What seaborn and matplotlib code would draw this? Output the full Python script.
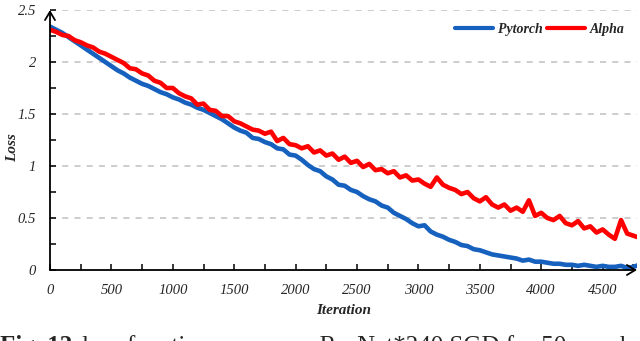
import numpy as np
import pandas as pd
import matplotlib
matplotlib.use("Agg")
import matplotlib.pyplot as plt
from matplotlib.lines import Line2D
import seaborn as sns

# iterations sampled every 50 steps
iterations = list(range(0, 4801, 50))

pytorch_loss = [
    2.34, 2.31, 2.28, 2.24, 2.20, 2.16, 2.12, 2.08, 2.04, 2.00,
    1.96, 1.92, 1.89, 1.85, 1.82, 1.79, 1.77, 1.74, 1.71, 1.69,
    1.66, 1.64, 1.61, 1.59, 1.56, 1.54, 1.51, 1.48, 1.45, 1.41,
    1.37, 1.34, 1.32, 1.27, 1.26, 1.23, 1.21, 1.17, 1.16, 1.11,
    1.10, 1.06, 1.01, 0.97, 0.95, 0.90, 0.87, 0.82, 0.81, 0.77,
    0.75, 0.71, 0.68, 0.66, 0.62, 0.60, 0.55, 0.52, 0.49, 0.45,
    0.42, 0.43, 0.37, 0.34, 0.32, 0.29, 0.27, 0.24, 0.23, 0.20,
    0.19, 0.17, 0.15, 0.14, 0.13, 0.12, 0.11, 0.09, 0.10, 0.08,
    0.08, 0.07, 0.06, 0.06, 0.05, 0.05, 0.04, 0.05, 0.04, 0.03,
    0.04, 0.03, 0.03, 0.04, 0.02, 0.03, 0.05,
]

alpha_loss = [
    2.31, 2.29, 2.26, 2.25, 2.21, 2.19, 2.16, 2.14, 2.10, 2.08,
    2.05, 2.02, 1.99, 1.94, 1.93, 1.89, 1.87, 1.82, 1.80, 1.75,
    1.75, 1.70, 1.67, 1.65, 1.59, 1.60, 1.54, 1.53, 1.48, 1.48,
    1.43, 1.41, 1.38, 1.35, 1.34, 1.31, 1.33, 1.24, 1.27, 1.21,
    1.20, 1.17, 1.19, 1.13, 1.15, 1.10, 1.12, 1.06, 1.09, 1.03,
    1.05, 0.99, 1.02, 0.96, 0.97, 0.93, 0.95, 0.89, 0.91, 0.86,
    0.87, 0.83, 0.80, 0.89, 0.82, 0.79, 0.77, 0.73, 0.75, 0.69,
    0.66, 0.70, 0.63, 0.60, 0.63, 0.57, 0.60, 0.56, 0.67, 0.52,
    0.55, 0.50, 0.48, 0.52, 0.45, 0.43, 0.47, 0.40, 0.42, 0.36,
    0.39, 0.34, 0.30, 0.48, 0.35, 0.33, 0.31,
]

series_names = ["Pytorch", "Alpha"]
series_colors = ["#1660be", "#ff0000"]
x_ticks = [0, 500, 1000, 1500, 2000, 2500, 3000, 3500, 4000, 4500]
y_ticks = [0, 0.5, 1, 1.5, 2, 2.5]
y_tick_labels = ["0", "0.5", "1", "1.5", "2", "2.5"]

df = pd.DataFrame({
    "Iteration": iterations * 2,
    "Loss": pytorch_loss + alpha_loss,
    "model": ["Pytorch"] * len(iterations) + ["Alpha"] * len(iterations),
})

sns.set_theme(style="white")
plt.rcParams["font.family"] = ["Liberation Serif", "DejaVu Serif"]

fig = plt.figure(figsize=(6.4, 3.41), dpi=100)
ax = fig.add_axes([50 / 640, 1 - 270 / 341, 587 / 640, 260 / 341])

sns.lineplot(data=df, x="Iteration", y="Loss", hue="model", hue_order=series_names,
             palette=series_colors, linewidth=3.3, ax=ax, legend=False)

ax.set_xlim(0, 4780)
ax.set_ylim(0, 2.5)

# dashed horizontal grid
for v in y_ticks[1:]:
    ax.axhline(v, color="#c0c0c0", linewidth=1.1, linestyle=(0, (4, 4)), zorder=0)

for s in ax.spines.values():
    s.set_visible(False)

# axis arrows
arrow = dict(arrowstyle="->,head_length=0.5,head_width=0.3", lw=1.3, color="black",
             shrinkA=0, shrinkB=0)
ax.annotate("", xy=(0, 1.0), xytext=(0, 0), xycoords="axes fraction", arrowprops=arrow)
ax.annotate("", xy=(1.0, 0), xytext=(0, 0), xycoords="axes fraction", arrowprops=arrow)

ax.set_xticks(x_ticks)
ax.set_xticklabels([str(t) for t in x_ticks])
ax.set_xticks(list(range(250, 4800, 500)), minor=True)
ax.set_yticks(y_ticks)
ax.set_yticklabels(y_tick_labels)
ax.set_yticks([0.25, 0.75, 1.25, 1.75, 2.25], minor=True)
ax.tick_params(axis="both", which="both", direction="in", length=4, width=1.1,
               color="black", labelsize=10.5, bottom=True, left=True)
ax.tick_params(axis="x", pad=10)
ax.tick_params(axis="y", pad=10)
for lab in ax.get_xticklabels() + ax.get_yticklabels():
    lab.set_fontstyle("italic")

ax.set_xlabel("Iteration", fontsize=11, fontstyle="italic", fontweight="bold", labelpad=5)
ax.set_ylabel("Loss", fontsize=11, fontstyle="italic", fontweight="bold")
ax.yaxis.set_label_coords(-0.052, 0.47)

handles = [Line2D([0], [0], color=c, linewidth=3) for c in series_colors]
ax.legend(handles, series_names, loc="upper right", bbox_to_anchor=(1.0, 1.0), ncol=2,
          frameon=False, handlelength=2.8, handletextpad=0.3, columnspacing=0.3,
          prop=dict(family="Liberation Serif", style="italic", weight="bold", size=10))

# caption, clipped by the bottom edge like in the source
fig.text(0.0, 1 - 335 / 341, "Fig. 12.", fontsize=18, fontweight="bold", va="top", ha="left")
fig.text(0.128, 1 - 335 / 341, "loss function curves on ResNet*240 SGD for 50 epochs",
         fontsize=18, va="top", ha="left")

fig.savefig("out.png", dpi=100)
